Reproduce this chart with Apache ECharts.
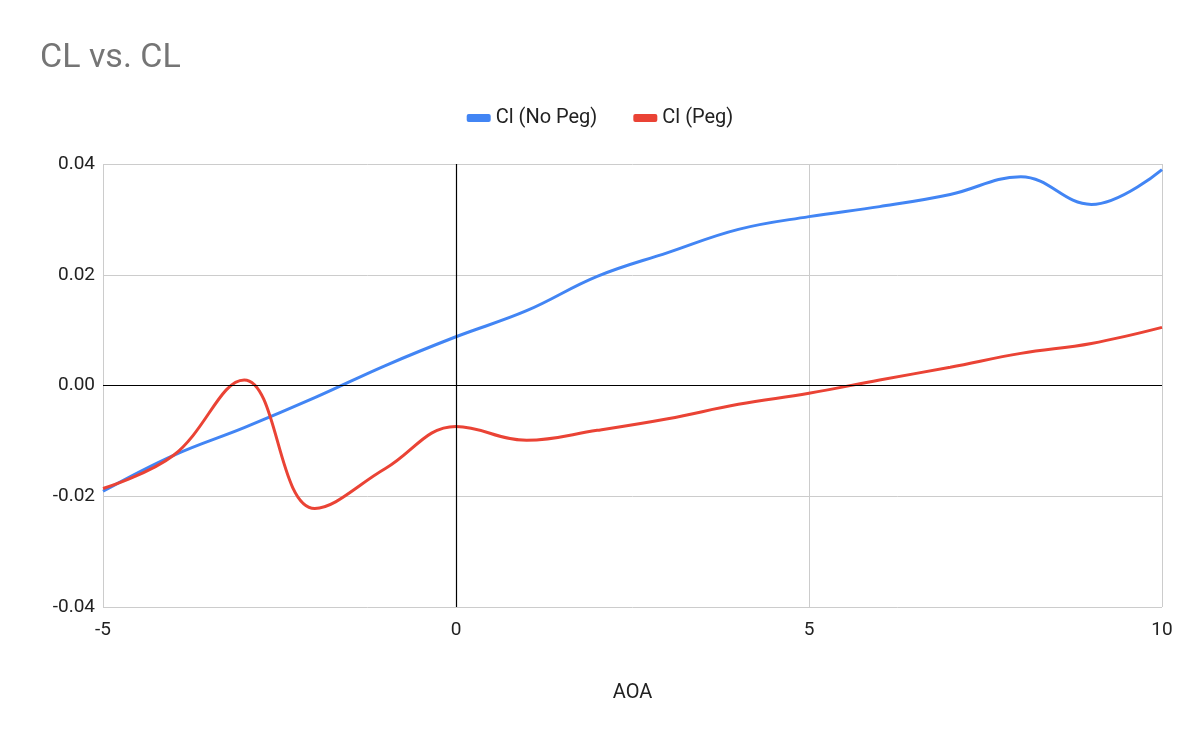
<!DOCTYPE html>
<html><head><meta charset="utf-8">
<script src="https://cdn.jsdelivr.net/npm/echarts@6/dist/echarts.min.js"></script>
<style>html,body{margin:0;padding:0;background:#fff}#c{width:1200px;height:742px}</style>
</head><body><div id="c"></div>
<script>
const aoa = [-5,-4,-3,-2,-1,0,1,2,3,4,5,6,7,8,9,10];
const clNoPeg = [-0.0191,-0.0126,-0.0076,-0.0022,0.0036,0.0088,0.0135,0.0197,0.024,0.0282,0.0305,0.0323,0.0345,0.0377,0.0327,0.039];
const clPeg = [-0.0186,-0.0126,0.001,-0.0222,-0.015,-0.0074,-0.0099,-0.0081,-0.006,-0.0034,-0.0014,0.001,0.0033,0.0058,0.0076,0.0105];
const ch = echarts.init(document.getElementById('c'));
const font = 'Roboto, Arial, sans-serif';
ch.setOption({
  animation:false,
  title:{text:'CL vs. CL',left:35,top:36,textStyle:{fontFamily:font,fontSize:34,fontWeight:'normal',color:'#757575'}},
  legend:{top:103,left:'center',itemWidth:24,itemHeight:8,itemGap:36,icon:'roundRect',textStyle:{fontFamily:font,fontSize:20,color:'#222'}},
  grid:{left:103,right:38,top:164,bottom:135},
  xAxis:{type:'value',min:-5,max:10,interval:5,name:'AOA',nameLocation:'middle',nameGap:76,
    nameTextStyle:{fontFamily:font,fontSize:20,color:'#222'},
    axisLine:{show:false},axisTick:{show:false},
    axisLabel:{fontFamily:font,fontSize:19,color:'#222',margin:14},
    splitLine:{show:true,lineStyle:{color:'#ccc'}}},
  yAxis:{type:'value',min:-0.04,max:0.04,interval:0.02,
    axisLine:{show:false},axisTick:{show:false},
    axisLabel:{fontFamily:font,fontSize:19,color:'#222',formatter:v=>v.toFixed(2)},
    splitLine:{show:true,lineStyle:{color:'#ccc'}}},
  series:[
    {name:'Cl (No Peg)',type:'line',smooth:0.4,showSymbol:false,data:aoa.map((x,i)=>[x,clNoPeg[i]]),
     lineStyle:{color:'#4285f4',width:3},itemStyle:{color:'#4285f4'},
     markLine:{silent:true,symbol:'none',label:{show:false},lineStyle:{color:'#000',width:1.2,type:'solid'},data:[{xAxis:0},{yAxis:0}]}},
    {name:'Cl (Peg)',type:'line',smooth:0.4,showSymbol:false,data:aoa.map((x,i)=>[x,clPeg[i]]),
     lineStyle:{color:'#ea4335',width:3},itemStyle:{color:'#ea4335'}}
  ]
});
</script></body></html>
